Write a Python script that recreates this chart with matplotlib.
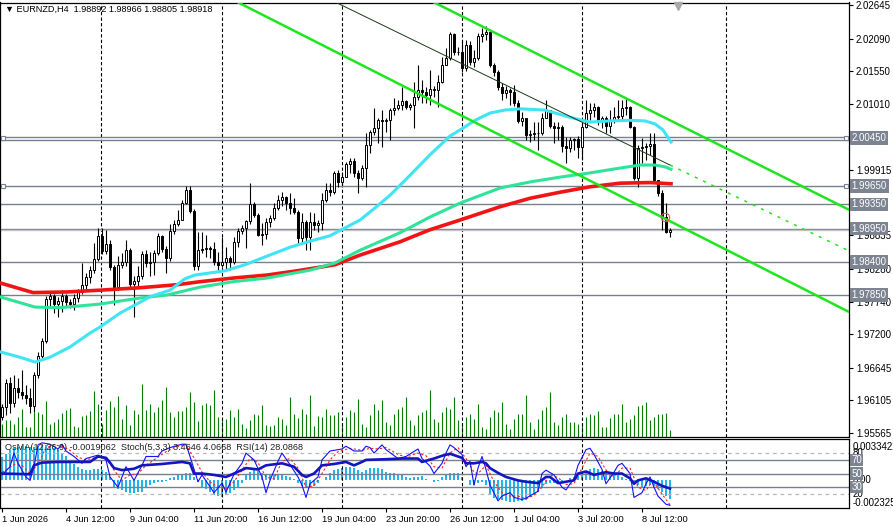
import matplotlib
matplotlib.use('Agg')
import matplotlib.pyplot as plt
import matplotlib.transforms as mtransforms
import numpy as np

plt.rcParams['font.family'] = ['Liberation Sans', 'DejaVu Sans']

header = '\u25bc EURNZD,H4  1.98892 1.98966 1.98805 1.98918'
ind_header = 'OsMA(12,26,9) -0.0019062  Stoch(5,3,3) 3.4646 4.0668  RSI(14) 28.0868'

# H4 candles (open of each bar = close of the previous one)
first_open = 1.9583
closes = [1.9600, 1.9639, 1.9606, 1.9631, 1.9624, 1.9619, 1.9614, 1.9601, 1.9653, 1.9684,
          1.9709, 1.9778, 1.9783, 1.9770, 1.9775, 1.9783, 1.9773, 1.9770, 1.9780, 1.9790,
          1.9801, 1.9815, 1.9826, 1.9844, 1.9882, 1.9858, 1.9869, 1.9831, 1.9798, 1.9835,
          1.9840, 1.9859, 1.9803, 1.9808, 1.9816, 1.9853, 1.9838, 1.9840, 1.9855, 1.9883,
          1.9861, 1.9846, 1.9891, 1.9902, 1.9909, 1.9937, 1.9959, 1.9924, 1.9833, 1.9859,
          1.9861, 1.9863, 1.9861, 1.9840, 1.9835, 1.9840, 1.9846, 1.9840, 1.9873, 1.9891,
          1.9896, 1.9907, 1.9935, 1.9917, 1.9884, 1.9886, 1.9906, 1.9912, 1.9929, 1.9942,
          1.9947, 1.9937, 1.9929, 1.9922, 1.9879, 1.9906, 1.9881, 1.9906, 1.9901, 1.9904,
          1.9942, 1.9959, 1.9955, 1.9987, 1.9972, 1.9980, 2.0002, 2.0007, 1.9987, 1.9979,
          1.9995, 2.0033, 2.0055, 2.0061, 2.0074, 2.0073, 2.0074, 2.0091, 2.0094, 2.0099,
          2.0106, 2.0096, 2.0099, 2.0113, 2.0124, 2.0121, 2.0116, 2.0126, 2.0124, 2.0137,
          2.0165, 2.0177, 2.0217, 2.0187, 2.0187, 2.0161, 2.0199, 2.0170, 2.0177, 2.0213,
          2.0217, 2.0220, 2.0165, 2.0154, 2.0129, 2.0119, 2.0124, 2.0121, 2.0103, 2.0073,
          2.0078, 2.0050, 2.0051, 2.0053, 2.0053, 2.0078, 2.0091, 2.0065, 2.0061, 2.0063,
          2.0031, 2.0028, 2.0041, 2.0043, 2.0030, 2.0063, 2.0086, 2.0091, 2.0096, 2.0073,
          2.0078, 2.0065, 2.0074, 2.0079, 2.0081, 2.0094, 2.0096, 2.0063, 1.9979, 2.0028,
          2.0030, 2.0031, 2.0035, 1.9975, 1.9954, 1.9914, 1.9889, 1.98918]
highs = [1.9605, 1.9646, 1.9649, 1.9653, 1.9648, 1.9661, 1.9636, 1.9631, 1.9657, 1.9691,
         1.9714, 1.9783, 1.9788, 1.9786, 1.9782, 1.9793, 1.9786, 1.9778, 1.9786, 1.9795,
         1.9838, 1.9821, 1.9833, 1.9871, 1.9896, 1.9896, 1.9892, 1.9876, 1.9835, 1.9850,
         1.9855, 1.9876, 1.9863, 1.9816, 1.9833, 1.9858, 1.9859, 1.9856, 1.9859, 1.9888,
         1.9884, 1.9866, 1.9902, 1.9909, 1.9926, 1.9942, 1.9965, 1.9965, 1.9927, 1.9889,
         1.9889, 1.9884, 1.9866, 1.9873, 1.9856, 1.9881, 1.9864, 1.9850, 1.9881, 1.9896,
         1.9901, 1.9909, 1.9970, 1.9939, 1.9921, 1.9904, 1.9912, 1.9917, 1.9937, 1.9950,
         1.9955, 1.9949, 1.9954, 1.9945, 1.9926, 1.9921, 1.9909, 1.9922, 1.9921, 1.9909,
         1.9954, 1.9970, 1.9970, 1.9990, 1.9992, 1.9988, 2.0005, 2.0012, 2.0012, 1.9992,
         2.0000, 2.0053, 2.0058, 2.0094, 2.0078, 2.0091, 2.0078, 2.0094, 2.0111, 2.0108,
         2.0129, 2.0108, 2.0103, 2.0137, 2.0165, 2.0141, 2.0129, 2.0157, 2.0131, 2.0149,
         2.0179, 2.0194, 2.0220, 2.0218, 2.0195, 2.0207, 2.0207, 2.0205, 2.0190, 2.0218,
         2.0227, 2.0230, 2.0223, 2.0169, 2.0157, 2.0136, 2.0131, 2.0127, 2.0132, 2.0108,
         2.0088, 2.0078, 2.0058, 2.0071, 2.0071, 2.0086, 2.0108, 2.0091, 2.0071, 2.0071,
         2.0066, 2.0046, 2.0046, 2.0045, 2.0048, 2.0070, 2.0108, 2.0103, 2.0103, 2.0098,
         2.0081, 2.0081, 2.0091, 2.0096, 2.0108, 2.0108, 2.0111, 2.0098, 2.0065, 2.0033,
         2.0045, 2.0036, 2.0053, 2.0053, 1.9975, 1.9959, 1.9937, 1.98966]
lows = [1.9578, 1.9586, 1.9590, 1.9600, 1.9614, 1.9613, 1.9605, 1.9590, 1.9591, 1.9648,
        1.9681, 1.9705, 1.9767, 1.9755, 1.9748, 1.9757, 1.9765, 1.9763, 1.9760, 1.9773,
        1.9786, 1.9791, 1.9805, 1.9821, 1.9841, 1.9853, 1.9853, 1.9826, 1.9768, 1.9793,
        1.9830, 1.9833, 1.9798, 1.9749, 1.9798, 1.9811, 1.9831, 1.9816, 1.9818, 1.9851,
        1.9856, 1.9821, 1.9841, 1.9886, 1.9899, 1.9909, 1.9936, 1.9921, 1.9826, 1.9826,
        1.9855, 1.9848, 1.9846, 1.9835, 1.9826, 1.9831, 1.9826, 1.9826, 1.9836, 1.9864,
        1.9886, 1.9863, 1.9902, 1.9914, 1.9883, 1.9868, 1.9878, 1.9897, 1.9909, 1.9926,
        1.9932, 1.9926, 1.9919, 1.9919, 1.9868, 1.9871, 1.9859, 1.9859, 1.9893, 1.9889,
        1.9893, 1.9939, 1.9949, 1.9952, 1.9964, 1.9967, 1.9980, 1.9987, 1.9980, 1.9954,
        1.9975, 1.9964, 2.0020, 2.0050, 2.0036, 2.0030, 2.0055, 2.0041, 2.0083, 2.0091,
        2.0091, 2.0093, 2.0091, 2.0061, 2.0108, 2.0103, 2.0103, 2.0099, 2.0113, 2.0096,
        2.0136, 2.0165, 2.0174, 2.0182, 2.0182, 2.0154, 2.0155, 2.0165, 2.0162, 2.0174,
        2.0204, 2.0207, 2.0162, 2.0147, 2.0124, 2.0108, 2.0111, 2.0099, 2.0098, 2.0070,
        2.0065, 2.0041, 2.0038, 2.0041, 2.0025, 2.0050, 2.0078, 2.0061, 2.0036, 2.0041,
        2.0022, 2.0003, 2.0022, 2.0025, 2.0012, 2.0008, 2.0061, 2.0074, 2.0079, 2.0066,
        2.0061, 2.0053, 2.0053, 2.0069, 2.0074, 2.0074, 2.0083, 2.0061, 1.9975, 1.9964,
        2.0003, 2.0008, 2.0017, 1.9970, 1.9949, 1.9892, 1.9888, 1.98805]
volumes = [13, 17, 17, 13, 20, 28, 10, 10, 25, 25, 23, 36, 13, 15, 18, 24, 27, 29, 11, 10,
           21, 22, 26, 46, 33, 13, 27, 36, 30, 41, 18, 32, 12, 27, 23, 53, 27, 33, 25, 30,
           37, 50, 25, 20, 26, 26, 30, 45, 35, 16, 32, 34, 32, 47, 20, 18, 18, 27, 20, 28,
           13, 9, 17, 23, 22, 32, 12, 11, 12, 20, 18, 12, 40, 23, 19, 28, 23, 42, 11, 21,
           20, 28, 22, 22, 25, 12, 20, 27, 25, 38, 13, 10, 22, 33, 27, 37, 15, 12, 23, 28,
           30, 40, 17, 12, 22, 25, 27, 47, 18, 15, 25, 30, 28, 40, 17, 13, 20, 23, 18, 33,
           10, 8, 20, 27, 25, 35, 13, 8, 18, 23, 23, 42, 15, 8, 18, 27, 30, 45, 15, 12,
           20, 23, 15, 15, 13, 13, 20, 23, 22, 26, 10, 10, 19, 23, 23, 33, 15, 18, 22, 31,
           32, 35, 17, 20, 23, 23, 24, 7]

# moving averages (read at key points)
ma_fast_idx = [-0.5, 4.5, 8.25, 12, 17, 22, 24.5, 29.5, 37, 42, 45.75, 48.25, 55.75, 60.75, 65.75,
               72, 77, 82, 85.75, 89.5, 93.25, 97, 102, 107, 112, 115, 118.25, 122, 125.75,
               129.5, 135.75, 142, 147, 152, 157, 160.75, 163.25, 165.25, 167.25]
ma_fast_val = [1.9691, 1.9682, 1.9674, 1.9682, 1.9699, 1.9722, 1.9732, 1.9755, 1.9782, 1.9793,
               1.9812, 1.9818, 1.9825, 1.9835, 1.9848, 1.9864, 1.9874, 1.9883, 1.9896, 1.9909,
               1.9929, 1.9950, 1.9983, 2.0017, 2.0048, 2.0060, 2.0074, 2.0086, 2.0091, 2.0093,
               2.0091, 2.0079, 2.0071, 2.0073, 2.0074, 2.0073, 2.0068, 2.0058, 2.0038]
ma_mid_idx = [-0.5, 8.25, 14.5, 24.5, 34.5, 41.25, 49.5, 57.75, 66.25, 72, 77, 83.25, 89.5,
              99.5, 107, 114.5, 124.5, 132, 139.5, 147, 154.5, 159.5, 163.25, 165.75, 167.25]
ma_mid_val = [1.9782, 1.9765, 1.9764, 1.9770, 1.9780, 1.9785, 1.9798, 1.9807, 1.9813, 1.9820,
              1.9826, 1.9838, 1.9859, 1.9888, 1.9914, 1.9937, 1.9962, 1.9972, 1.9980, 1.9987,
              1.9995, 2.0000, 2.0000, 1.9997, 1.9993]
ma_slow_idx = [-0.5, 7.75, 16.25, 24.5, 34.5, 43.75, 49.5, 57.75, 66.25, 73.75, 83.25, 89.5,
               99.5, 107, 114.5, 124.5, 132, 139.5, 147, 154.5, 162, 167.25]
ma_slow_val = [1.9805, 1.9789, 1.9790, 1.9793, 1.9797, 1.9802, 1.9807, 1.9813, 1.9818, 1.9825,
               1.9835, 1.9851, 1.9873, 1.9893, 1.9909, 1.9931, 1.9945, 1.9955, 1.9964, 1.9970,
               1.9971, 1.9969]

# channel lines (bar index, price)
chan_upper_idx = [107.75, 211.75]
chan_upper_val = [2.0270, 1.9926]
chan_lower_idx = [58.75, 211.75]
chan_lower_val = [2.0270, 1.9757]
chan_mid_idx = [83.2, 167.0, 211.75]
chan_mid_val = [2.0270, 2.0000, 1.9858]

level_lines = [2.0047, 2.0042, 1.9965, 1.9935, 1.9895, 1.9840, 1.9785]
level_boxes = [2.0045, 1.9965, 1.9935, 1.9895, 1.9840, 1.9785]
marked_levels = [2.0045, 1.9965]
bid = 1.98918
price_ticks = [2.02645, 2.0209, 2.0155, 2.0101, 2.0047, 1.99915, 1.99375, 1.98835,
               1.9828, 1.9774, 1.972, 1.96645, 1.96105, 1.95565]
hidden_ticks = [2.0047, 1.99375]
week_starts = [24.75, 55, 85, 115, 145, 181]
signal_bar = 165.75
signal_price = 1.9914

date_idx = [0, 16, 32, 48, 64, 80, 96, 112, 128, 144, 160]
date_labels = ['1 Jun 2026', '4 Jun 12:00', '9 Jun 04:00', '11 Jun 20:00', '16 Jun 12:00',
               '19 Jun 04:00', '23 Jun 20:00', '26 Jun 12:00', '1 Jul 04:00', '3 Jul 20:00',
               '8 Jul 12:00']

# lower window
osma = [0.0023, 0.0026, 0.0030, 0.0032, 0.0033, 0.0034, 0.0034, 0.0033, 0.0033, 0.0034,
        0.0035, 0.0035, 0.0034, 0.0032, 0.0030, 0.0027, 0.0024, 0.0020, 0.0016, 0.0013,
        0.0011, 0.0010, 0.0010, 0.0011, 0.0011, 0.0010, 0.0008, 0.0003, -0.0007, -0.0009,
        -0.0010, -0.0012, -0.0013, -0.0013, -0.0012, -0.0012, -0.0008, -0.0005, -0.0003, -0.0002,
        -0.0002, -0.0001, 0.0002, 0.0003, 0.0005, 0.0006, 0.0007, 0.0007, 0.0003, -0.0002,
        -0.0007, -0.0009, -0.0012, -0.0015, -0.0016, -0.0017, -0.0015, -0.0013, -0.0010, -0.0008,
        -0.0003, 0.0005, 0.0008, 0.0010, 0.0009, 0.0007, 0.0006, 0.0005, 0.0005, 0.0005,
        0.0005, 0.0004, 0.0003, 0.0001, -0.0003, -0.0006, -0.0008, -0.0008, -0.0006, -0.0003,
        0.0000, 0.0003, 0.0007, 0.0010, 0.0011, 0.0012, 0.0013, 0.0013, 0.0012, 0.0010,
        0.0008, 0.0010, 0.0012, 0.0012, 0.0012, 0.0011, 0.0008, 0.0007, 0.0007, 0.0006,
        0.0005, 0.0003, 0.0002, 0.0003, 0.0003, 0.0004, 0.0001, 0.0000, -0.0002, -0.0001,
        0.0003, 0.0006, 0.0007, 0.0007, 0.0007, 0.0003, 0.0000, -0.0005, -0.0005, -0.0003,
        -0.0002, -0.0005, -0.0014, -0.0018, -0.0019, -0.0020, -0.0021, -0.0022, -0.0022, -0.0021,
        -0.0021, -0.0020, -0.0017, -0.0015, -0.0012, -0.0008, -0.0004, -0.0003, -0.0003, -0.0002,
        -0.0001, 0.0000, 0.0002, 0.0003, 0.0004, 0.0006, 0.0009, 0.0011, 0.0012, 0.0011,
        0.0009, 0.0007, 0.0007, 0.0008, 0.0006, 0.0003, 0.0001, -0.0001, -0.0004, -0.0005,
        -0.0007, -0.0006, -0.0005, -0.0006, -0.0009, -0.0012, -0.0016, -0.0019062]
stoch_idx = [0, 2, 3, 4, 6, 7, 8, 9, 10, 12, 14, 15, 16, 18, 20, 21, 24, 25, 26, 27, 29, 30, 31, 33,
             35, 36, 39, 40, 42, 45, 46, 47, 49, 50, 53, 55, 56, 58, 60, 61, 63, 65, 66, 67, 69, 70,
             72, 74, 75, 76, 77, 79, 80, 82, 85, 86, 88, 90, 91, 92, 93, 95, 96, 99, 101, 104, 105,
             107, 108, 110, 111, 112, 113, 115, 116, 117, 118, 119, 120, 121, 122, 124, 125, 127,
             128, 130, 131, 134, 135, 136, 138, 140, 141, 142, 143, 144, 146, 147, 148, 150, 151,
             153, 154, 155, 157, 158, 160, 161, 162, 163, 164, 166, 167]
stoch_val = [48, 60, 80, 65, 45, 40, 60, 92, 95, 93, 86, 93, 83, 75, 65, 72, 77, 74, 70, 45, 30, 45,
             60, 40, 62, 75, 75, 83, 88, 93, 93, 75, 38, 48, 22, 36, 23, 49, 65, 80, 70, 45, 22, 40,
             68, 80, 63, 45, 33, 15, 35, 45, 70, 83, 86, 90, 83, 83, 90, 88, 80, 92, 85, 72, 75, 86,
             72, 61, 50, 65, 80, 92, 88, 78, 60, 68, 33, 58, 75, 56, 33, 10, 17, 22, 15, 12, 14, 24,
             50, 55, 48, 30, 26, 35, 42, 62, 85, 87, 78, 56, 35, 52, 62, 65, 50, 15, 22, 35, 45, 30,
             17, 5, 3.4646]
sig_idx = [0, 3, 5, 7, 9, 11, 13, 15, 17, 19, 21, 24, 26, 28, 30, 32, 34, 36, 39, 41, 43, 46, 48, 50,
           52, 54, 56, 58, 60, 62, 64, 66, 68, 70, 72, 74, 76, 78, 80, 82, 84, 87, 90, 92, 94, 96, 99,
           101, 104, 106, 108, 110, 112, 114, 116, 118, 119, 121, 123, 125, 127, 129, 131, 133, 135,
           137, 139, 141, 143, 145, 147, 149, 151, 153, 155, 157, 159, 161, 162, 163, 165, 167]
sig_val = [52, 63, 62, 50, 64, 88, 92, 90, 84, 74, 70, 74, 73, 55, 40, 48, 50, 62, 74, 82, 88, 92, 73,
           52, 38, 30, 28, 38, 55, 72, 66, 45, 42, 68, 72, 58, 30, 32, 50, 70, 82, 87, 84, 87, 86, 88,
           78, 74, 80, 76, 60, 58, 80, 88, 72, 52, 50, 62, 38, 22, 17, 17, 13, 18, 30, 48, 44, 34, 35,
           58, 80, 75, 55, 45, 58, 58, 30, 25, 34, 37, 20, 4.0668]
rsi_idx = [0, 7, 8, 10, 14, 22, 24, 26, 27, 28, 30, 33, 35, 40, 45, 47, 48, 50, 53, 56, 58, 61, 64, 66,
           70, 73, 75, 76, 78, 80, 83, 86, 88, 90, 91, 96, 100, 104, 105, 108, 110, 112, 113, 115, 116,
           118, 120, 121, 122, 124, 126, 129, 131, 134, 136, 137, 139, 141, 143, 144, 146, 148, 151,
           153, 155, 157, 158, 159, 161, 163, 164, 165, 167]
rsi_val = [50, 49, 62, 66, 67, 67, 75, 73, 66, 58, 55, 57, 62, 64, 67, 65, 50, 50, 48, 45, 50, 58, 56,
           62, 65, 60, 48, 45, 50, 62, 64, 67, 62, 67, 70, 71, 72, 72, 67, 72, 76, 79, 77, 73, 65, 65,
           67, 65, 58, 51, 45, 40, 38, 36, 45, 45, 36, 38, 40, 50, 53, 48, 52, 50, 50, 43, 35, 40, 43,
           38, 35, 32, 28.0868]

W, H = 893, 526
XMIN, XMAX = -0.5, 211.75
BOXC = '#7b8490'
LEVC = '#76808e'

fig = plt.figure(figsize=(W / 100, H / 100), dpi=100)
ax = fig.add_axes([0, 1 - 436.5 / H, 849 / W, 434 / H])
axv = ax.twinx()
ax.set_zorder(2)
axv.set_zorder(1)
ax.patch.set_visible(False)
axv.axis('off')
axv.set_ylim(0, 434)

x = np.arange(len(closes))
opens = np.r_[first_open, closes[:-1]]
c = np.array(closes)

axv.vlines(x, 0, volumes, color='#087a08', lw=0.8)

for w in week_starts:
    ax.axvline(w, color='black', lw=0.8, ls=(0, (3, 2)), zorder=1)

for lv in level_lines:
    ax.axhline(lv, color=LEVC, lw=1.0, zorder=2)
ax.axhline(bid, color='#c4c4c4', lw=1.0, zorder=2)
for lv in marked_levels:
    ax.plot([0.3, 211.0], [lv, lv], ls='none', marker='s', ms=3.5, mfc='white', mec=LEVC,
            mew=0.8, zorder=3, clip_on=False)

# candles
ax.vlines(x, lows, highs, color='black', lw=0.8, zorder=5)
bull = c >= opens
bottoms = np.minimum(opens, c)
heights = np.abs(c - opens)
ax.bar(x[bull], heights[bull], bottom=bottoms[bull], width=0.55, color='white',
       edgecolor='black', lw=0.7, zorder=6)
ax.bar(x[~bull], heights[~bull], bottom=bottoms[~bull], width=0.55, color='black',
       edgecolor='black', lw=0.7, zorder=6)

# moving averages
ax.plot(ma_slow_idx, ma_slow_val, color='#f01414', lw=2.6, zorder=7)
ax.plot(ma_mid_idx, ma_mid_val, color='#2ee39a', lw=2.2, zorder=7)
ax.plot(ma_fast_idx, ma_fast_val, color='#40e4f4', lw=2.2, zorder=7)

# channel
ax.plot(chan_upper_idx, chan_upper_val, color='#1ee61e', lw=1.8, zorder=8)
ax.plot(chan_lower_idx, chan_lower_val, color='#1ee61e', lw=1.8, zorder=8)
ax.plot(chan_mid_idx[:2], chan_mid_val[:2], color='#1a3a1a', lw=0.7, zorder=8)
ax.plot(chan_mid_idx[1:], chan_mid_val[1:], color='#1ee61e', lw=1.1, ls=(0, (2, 4)), zorder=8)

ax.plot([signal_bar], [signal_price], marker='o', ms=6, mfc='none', mec='#f05050', mew=0.8, zorder=9)

ax.set_xlim(XMIN, XMAX)
ax.set_ylim(1.95509, 2.02689)
ax.set_xticks([])
ax.yaxis.tick_right()
ax.set_yticks(price_ticks)
ax.set_yticklabels(['' if t in hidden_ticks else '%.5f' % t for t in price_ticks])
ax.tick_params(axis='y', direction='out', length=3, width=0.8, labelsize=7, pad=2, colors='black')
for s in ax.spines.values():
    s.set_linewidth(0.9)

ytr = ax.get_yaxis_transform()
for lv in level_boxes:
    ax.text(1.003, lv, '%.5f' % lv, transform=ytr, ha='left', va='center', fontsize=7,
            color='white', clip_on=False, zorder=10,
            bbox=dict(boxstyle='square,pad=0.18', fc=BOXC, ec='none'))

top = mtransforms.blended_transform_factory(ax.transData, ax.transAxes)
ax.plot([169], [0.992], transform=top, marker='v', ms=6, color='#a9a9a9', clip_on=False, zorder=9)

fig.text(5 / W, 1 - 9.5 / H, header, fontsize=6.6, va='center', ha='left', color='black')

# indicator window
axi = fig.add_axes([0, 1 - 508.3 / H, 849 / W, 69.3 / H])
axo = axi.twinx()
axi.set_zorder(2)
axo.set_zorder(1)
axi.patch.set_visible(False)
axo.axis('off')
axo.set_ylim(-0.00283, 0.0041)
axo.bar(x, osma, width=0.7, color='#1fb6ef', zorder=2)

for w in week_starts:
    axi.axvline(w, color='black', lw=0.8, ls=(0, (3, 2)), zorder=1)
for lv in (80, 20):
    axi.axhline(lv, color='#b8b8b8', lw=0.9, ls=(0, (3, 3)), zorder=1)
for lv in (70, 50, 30):
    axi.axhline(lv, color=LEVC, lw=1.0, zorder=1)

axi.plot(sig_idx, sig_val, color='#ff2020', lw=0.8, ls=(0, (2, 2)), zorder=3)
axi.plot(stoch_idx, stoch_val, color='#1010ff', lw=0.8, zorder=4)
axi.plot(rsi_idx, rsi_val, color='#1414c0', lw=1.9, zorder=5)

axi.set_xlim(XMIN, XMAX)
axi.set_ylim(-0.9, 100.6)
axi.yaxis.tick_right()
axi.set_yticks([])
axi.set_xticks(date_idx)
axi.set_xticklabels(date_labels, ha='left')
axi.tick_params(axis='x', direction='out', length=3, width=0.8, labelsize=6.7, pad=2)
for s in axi.spines.values():
    s.set_linewidth(0.9)

itr = axi.get_yaxis_transform()
otr = axo.get_yaxis_transform()
axo.text(1.004, 0.0033422, '0.0033422', transform=otr, ha='left', va='center', fontsize=7, clip_on=False)
axo.text(1.004, 0.0, '0.00', transform=otr, ha='left', va='center', fontsize=7, clip_on=False)
axo.text(1.004, -0.002325, '-0.002325', transform=otr, ha='left', va='center', fontsize=7, clip_on=False)
for lv in (80, 20):
    axi.text(1.004, lv, str(lv), transform=itr, ha='left', va='center', fontsize=7, clip_on=False)
for lv in (70, 50, 30):
    axi.text(1.003, lv, str(lv), transform=itr, ha='left', va='center', fontsize=7, color='white',
             clip_on=False, zorder=10, bbox=dict(boxstyle='square,pad=0.12', fc=BOXC, ec='none'))

fig.text(5 / W, 1 - 447 / H, ind_header, fontsize=6.6, va='center', ha='left', color='#202020', zorder=10)

fig.savefig('out.png', dpi=100)
